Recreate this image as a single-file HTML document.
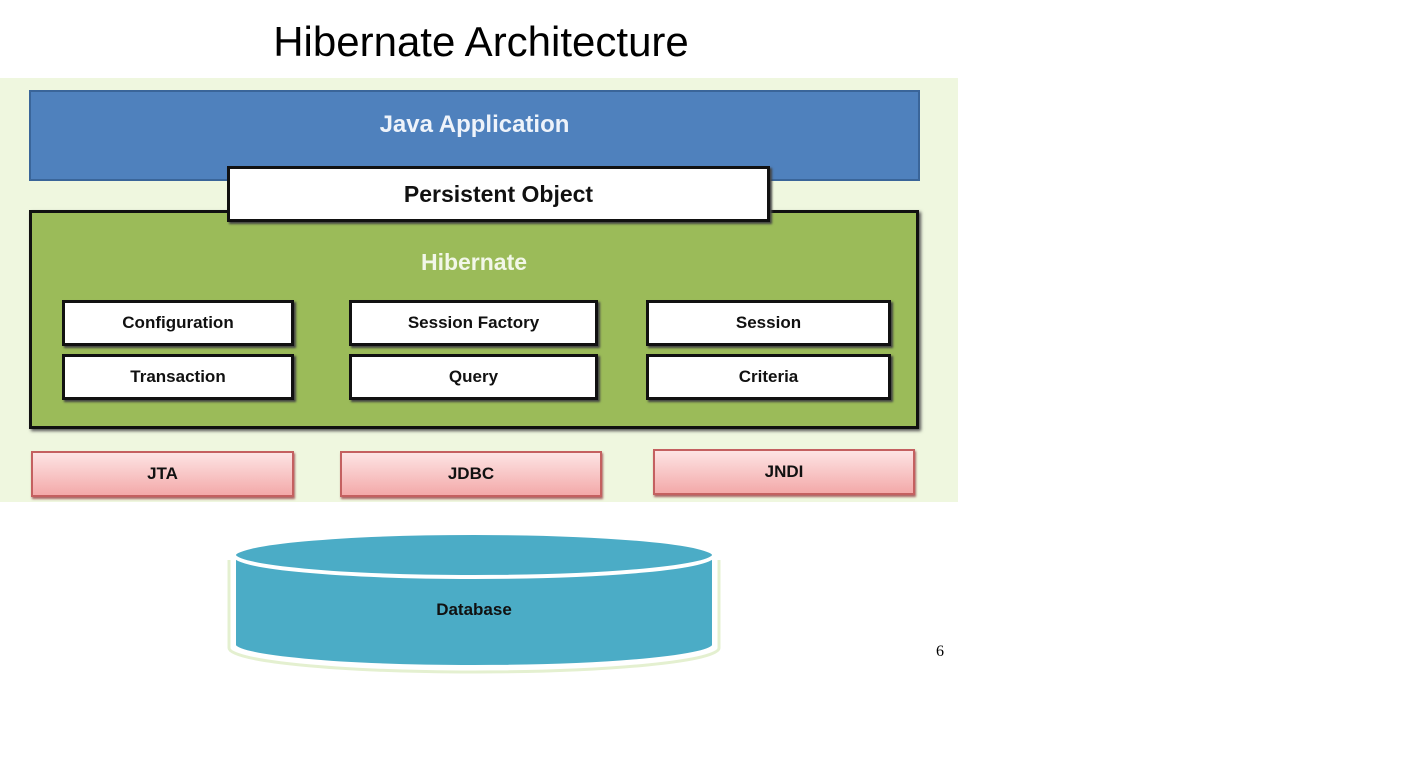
<!DOCTYPE html>
<html><head><style>
body{margin:0;width:1421px;height:777px;background:#fff;position:relative;overflow:hidden;font-family:"Liberation Sans",sans-serif}
.a{position:absolute;box-sizing:border-box;display:flex;align-items:center;justify-content:center;font-weight:bold}
.w{background:#fff;border:3px solid #111;font-size:17px;color:#111;box-shadow:2px 2px 2px #444}
.p{background:linear-gradient(#fde4e4,#f3a9a9);border:2px solid #c46060;font-size:17px;color:#111;box-shadow:1px 2px 2px #a66}
</style></head><body>
<div class="a" style="left:0;top:14px;width:962px;height:55px;font-weight:normal;font-size:42px;color:#000">Hibernate Architecture</div>
<div style="position:absolute;left:0;top:78px;width:958px;height:424px;background:#eff7df"></div>
<div class="a" style="left:29px;top:90px;width:891px;height:91px;background:#4f81bd;border:2px solid #3a6599;color:#eef3fa;font-size:24px;padding-bottom:22px">Java Application</div>
<div class="a" style="left:29px;top:210px;width:890px;height:219px;background:#9bbb59;border:3px solid #111;box-shadow:2px 2px 3px #555"></div>
<div class="a w" style="left:227px;top:166px;width:543px;height:56px;font-size:23px">Persistent Object</div>
<div class="a" style="left:29px;top:245px;width:890px;height:34px;color:#f2f7e8;font-size:23px">Hibernate</div>
<div class="a w" style="left:62px;top:300px;width:232px;height:46px">Configuration</div>
<div class="a w" style="left:62px;top:354px;width:232px;height:46px">Transaction</div>
<div class="a w" style="left:349px;top:300px;width:249px;height:46px">Session Factory</div>
<div class="a w" style="left:349px;top:354px;width:249px;height:46px">Query</div>
<div class="a w" style="left:646px;top:300px;width:245px;height:46px">Session</div>
<div class="a w" style="left:646px;top:354px;width:245px;height:46px">Criteria</div>
<div class="a p" style="left:31px;top:451px;width:263px;height:46px">JTA</div>
<div class="a p" style="left:340px;top:451px;width:262px;height:46px">JDBC</div>
<div class="a p" style="left:653px;top:449px;width:262px;height:46px">JNDI</div>
<svg style="position:absolute;left:0;top:0" width="1421" height="777">
<path d="M234 557 L234 645 A240 22 0 0 0 714 645 L714 557 Z" fill="#4bacc6" stroke="#fff" stroke-width="4"/>
<ellipse cx="474" cy="555" rx="240" ry="22" fill="#4bacc6" stroke="#fff" stroke-width="4"/>
<path d="M229 560 L229 648 A245 24 0 0 0 719 648 L719 560" fill="none" stroke="#e4f0d0" stroke-width="3"/>
<text x="474" y="615" text-anchor="middle" font-family="Liberation Sans" font-weight="bold" font-size="17" fill="#111">Database</text>
<text x="936" y="656" font-family="Liberation Serif" font-size="16" fill="#000">6</text>
</svg>
</body></html>
